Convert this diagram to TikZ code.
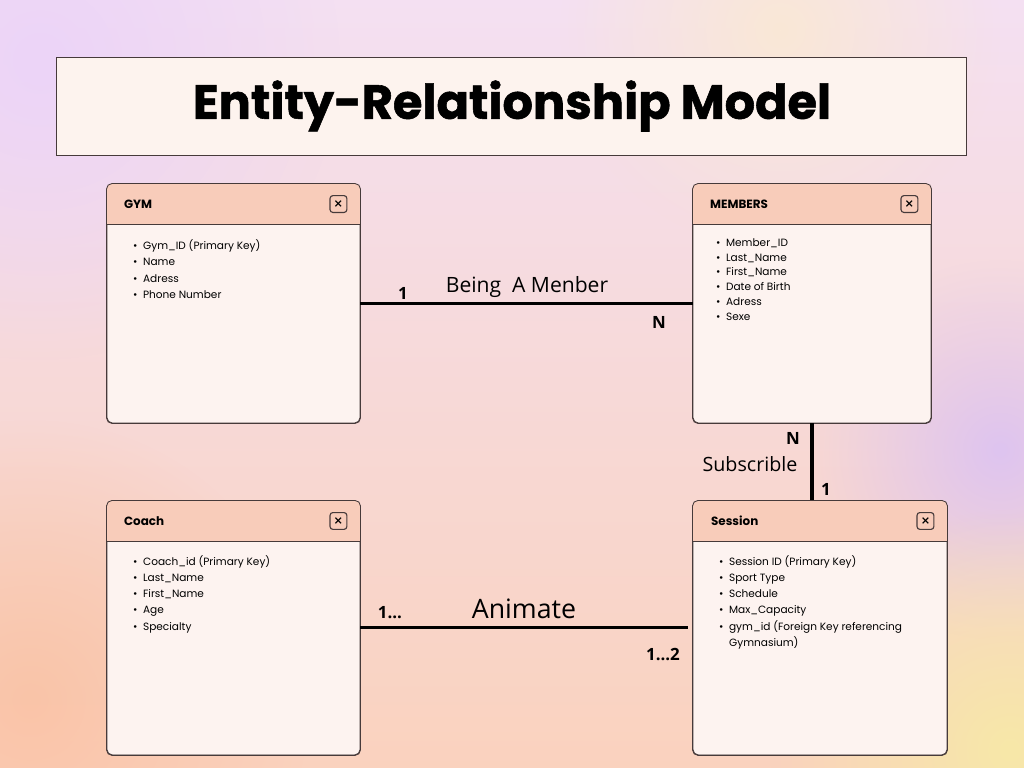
\documentclass[tikz,border=0pt]{standalone}
\usepackage{fontspec}
\setmainfont{Poppins}
\newfontfamily\labelfont{Open Sans}
\newfontfamily\titlefont{Poppins}[BoldFeatures={FakeBold=1.2}]
\newfontfamily\symbfont{DejaVu Sans}
\usetikzlibrary{positioning}
\usetikzlibrary{calc}
\usetikzlibrary{fadings}

\definecolor{bgtop}{RGB}{244,224,242}
\definecolor{bgmid}{RGB}{248,218,218}
\definecolor{bgbottom}{RGB}{250,210,190}
\definecolor{blobpurple}{RGB}{222,196,240}
\definecolor{blobyellow}{RGB}{247,232,168}
\definecolor{blobpeach}{RGB}{250,196,168}
\definecolor{bloblilac}{RGB}{236,212,248}
\definecolor{blobwarm}{RGB}{250,232,214}
\definecolor{boxline}{RGB}{70,58,58}
\definecolor{headfill}{RGB}{248,204,186}
\definecolor{bodyfill}{RGB}{253,243,240}
\definecolor{bannerfill}{RGB}{253,243,238}

\tikzfading[name=blobfade,inner color=transparent!0,outer color=transparent!100]

\newcommand{\itm}[1]{\makebox[0.25cm][l]{\textbullet}#1}

\begin{document}
\begin{tikzpicture}[x=0.025cm,y=0.025cm,thick]

  \tikzstyle{entity}=[rectangle,draw=boxline,line width=0.6pt,fill=bodyfill,rounded corners=.7ex,inner sep=0pt];
  \tikzstyle{headtext}=[anchor=west,inner sep=0pt,font=\fontsize{8.5}{10}\selectfont\bfseries];
  \tikzstyle{closebtn}=[rectangle,draw=boxline,line width=0.8pt,rounded corners=0.7mm,minimum size=0.42cm,inner sep=0pt,font=\symbfont\bfseries\fontsize{8}{8}\selectfont];
  \tikzstyle{attrs}=[anchor=north west,align=left,inner sep=0pt,font=\fontsize{7.5}{11.4}\selectfont];
  \tikzstyle{link}=[line width=2.2pt,draw=black];
  \tikzstyle{card}=[inner sep=0pt,font=\labelfont\bfseries\fontsize{12}{12}\selectfont];
  \tikzstyle{rel}=[inner sep=0pt,font=\labelfont\fontsize{15}{15}\selectfont];

  % background
  \useasboundingbox (0,0) rectangle (1024,-768);
  \shade[top color=bgtop,middle color=bgmid,bottom color=bgbottom] (0,0) rectangle (1024,-768);
  \fill[bloblilac,path fading=blobfade] (40,-60) circle (300);
  \fill[blobwarm,path fading=blobfade] (780,-30) circle (220);
  \fill[blobpurple,path fading=blobfade] (1000,-450) circle (190);
  \fill[blobyellow,path fading=blobfade] (1010,-750) circle (240);
  \fill[blobpeach,path fading=blobfade] (30,-700) circle (280);

  % title
  \node[rectangle,draw=boxline,line width=0.6pt,fill=bannerfill,minimum width=22.725cm,minimum height=2.45cm] (banner) at (511.5,-106) {};
  \node (title) at (512,-106) {\titlefont\fontsize{34}{34}\selectfont\bfseries Entity-Relationship Model};

  % entities
  \node[entity,minimum width=6.325cm,minimum height=5.975cm] (gym) at (233.5,-303.5) {};
  \node[entity,minimum width=5.95cm,minimum height=5.975cm] (members) [right=8.3cm of gym] {};
  \node[entity,minimum width=6.325cm,minimum height=6.35cm] (coach) [below=1.925cm of gym] {};
  \node[entity,minimum width=6.35cm,minimum height=6.35cm] (session) [below right=1.925cm and 0cm of members.south west] {};

  \foreach \e in {gym,members,coach,session}{
    \fill[headfill,rounded corners=.7ex] (\e.north west) rectangle ($(\e.north east)+(0,-41)$);
    \fill[headfill] ($(\e.north west)+(0,-20)$) rectangle ($(\e.north east)+(0,-41)$);
    \draw[boxline,line width=0.6pt] ($(\e.north west)+(0,-41)$) -- ($(\e.north east)+(0,-41)$);
    \draw[boxline,line width=0.6pt,rounded corners=.7ex] (\e.north west) rectangle (\e.south east);
    \node[closebtn] (\e-close) at ($(\e.north east)+(-22,-20.5)$) {×};
  }

  \node[headtext] (gym-title)     at ($(gym.north west)+(17,-20.5)$) {GYM};
  \node[headtext] (members-title) at ($(members.north west)+(17,-20.5)$) {MEMBERS};
  \node[headtext] (coach-title)   at ($(coach.north west)+(17,-20.5)$) {Coach};
  \node[headtext] (session-title) at ($(session.north west)+(18,-20.5)$) {Session};

  \node[attrs] (gym-attrs) at ($(gym.north west)+(26,-56)$)
    {\itm{Gym\_ID (Primary Key)}\\\itm{Name}\\\itm{Adress}\\\itm{Phone Number}};
  \node[attrs,font=\fontsize{7.5}{10.5}\selectfont] (members-attrs) at ($(members.north west)+(23,-54.5)$)
    {\itm{Member\_ID}\\\itm{Last\_Name}\\\itm{First\_Name}\\\itm{Date of Birth}\\\itm{Adress}\\\itm{Sexe}};
  \node[attrs] (coach-attrs) at ($(coach.north west)+(26,-55)$)
    {\itm{Coach\_id (Primary Key)}\\\itm{Last\_Name}\\\itm{First\_Name}\\\itm{Age}\\\itm{Specialty}};
  \node[attrs] (session-attrs) at ($(session.north west)+(26,-55)$)
    {\itm{Session ID (Primary Key)}\\\itm{Sport Type}\\\itm{Schedule}\\\itm{Max\_Capacity}\\\itm{gym\_id (Foreign Key referencing}\\\hspace*{0.25cm}Gymnasium)};

  % relationships
  \draw[link] (gym.east) -- (members.west);
  \draw[link] (members.south) -- (members.south |- session.north);
  \draw[link] (coach.east) -- ($(session.west)+(-5,0)$);

  \node[card] (gym-one)       at (403,-293) {1};
  \node[rel]  (being)         at (527,-287) {Being\ \ A Menber};
  \node[card] (members-n)     at (659,-322) {N};
  \node[card] (members-n2)    at (793,-438) {N};
  \node[rel,font=\labelfont\fontsize{14}{14}\selectfont] (subscrible) at (750,-464) {Subscrible};
  \node[card] (session-one)   at (826,-489) {1};
  \node[card] (coach-many)    at (390,-613) {1...};
  \node[rel,font=\labelfont\fontsize{19}{19}\selectfont] (animate) at (524,-609) {Animate};
  \node[card] (session-many)  at (663,-654) {1...2};

\end{tikzpicture}
\end{document}
